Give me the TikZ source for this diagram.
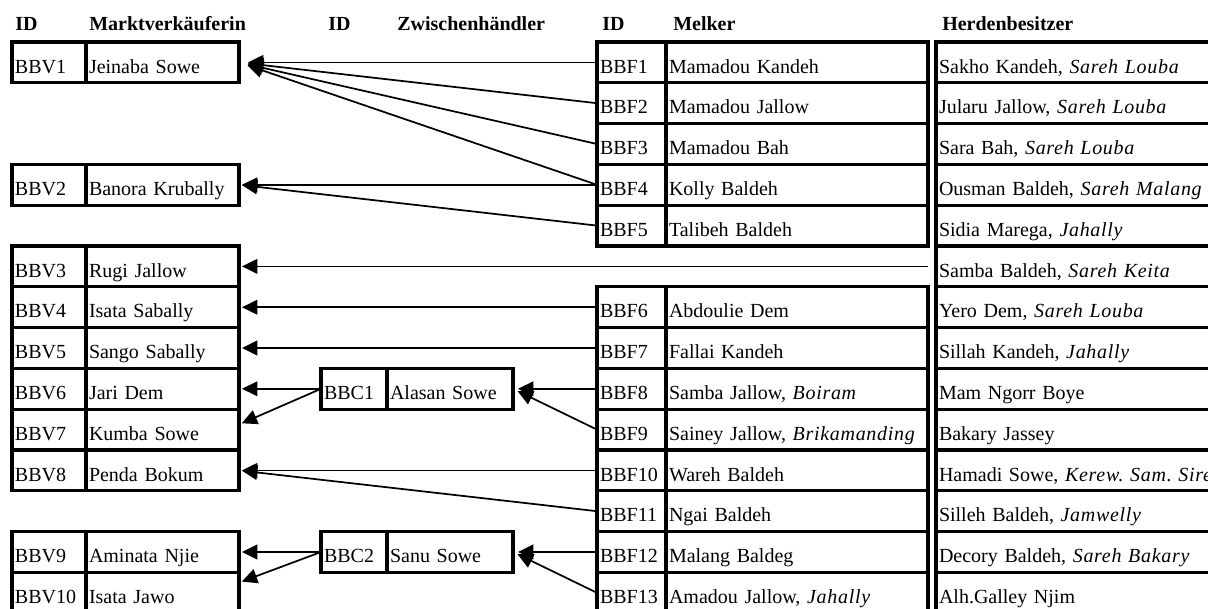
\documentclass[tikz,border=0pt]{standalone}
\usepackage{fontspec}
\setmainfont{Liberation Serif}
\usetikzlibrary{arrows.meta,calc}
\frenchspacing

% place names are set in slightly spaced italics
\newcommand\place[1]{{\itshape\addfontfeatures{LetterSpace=3.5}#1}}

% one table row made of an ID cell and a name cell
% #1 node name, #2 left x, #3 row index, #4 id style, #5 name style, #6 id, #7 name
\newcommand\tworow[7]{%
  \node[cell,#4] (#1id) at (#2,{42+40.8*#3}) {#6};
  \node[cell,#5] (#1) at (#1id.north east) {#7};
}
% a single cell of the owner column: #1 node name, #2 row index, #3 text
\newcommand\herdrow[3]{%
  \node[cell,herd] (#1) at (936,{42+40.8*#2}) {#3};
}

\begin{document}
\begin{tikzpicture}[x=0.75pt,y=-0.75pt,
  cell/.style={draw, line width=2.3pt, anchor=north west, outer sep=0pt,
    minimum height=30.6pt, inner xsep=2.25pt, inner ysep=0pt,
    text height=16pt, text depth=0pt, align=left,
    font=\fontsize{15}{18}\selectfont},
  vid/.style={text width=51pt},
  vname/.style={text width=110.25pt},
  cid/.style={text width=45pt},
  cname/.style={text width=90pt},
  fid/.style={text width=47.25pt},
  fname/.style={text width=192pt},
  herd/.style={text width=230pt},
  head/.style={anchor=base west, inner sep=0pt, font=\fontsize{15}{18}\selectfont\bfseries},
  conn/.style={line width=1.3pt, -{Triangle[length=11.5pt,width=11pt]}, shorten >=2.25pt},
]
\useasboundingbox (0,0) rectangle (1208,608);

% column headings
\node[head] (h-id1) at (15,30) {ID};
\node[head] (h-mv)  at (89,30) {Marktverkäuferin};
\node[head] (h-id2) at (328,30) {ID};
\node[head] (h-zh)  at (397,30) {Zwischenhändler};
\node[head] (h-id3) at (602,30) {ID};
\node[head] (h-mk)  at (673,30) {Melker};
\node[head] (h-hb)  at (942,30) {Herdenbesitzer};

% market vendors
\tworow{v1}{12}{0}{vid}{vname}{BBV1}{Jeinaba Sowe}
\tworow{v2}{12}{3}{vid}{vname}{BBV2}{Banora Krubally}
\tworow{v3}{12}{5}{vid}{vname}{BBV3}{Rugi Jallow}
\tworow{v4}{12}{6}{vid}{vname}{BBV4}{Isata Sabally}
\tworow{v5}{12}{7}{vid}{vname}{BBV5}{Sango Sabally}
\tworow{v6}{12}{8}{vid}{vname}{BBV6}{Jari Dem}
\tworow{v7}{12}{9}{vid}{vname}{BBV7}{Kumba Sowe}
\tworow{v8}{12}{10}{vid}{vname}{BBV8}{Penda Bokum}
\tworow{v9}{12}{12}{vid}{vname}{BBV9}{Aminata Njie}
\tworow{v10}{12}{13}{vid}{vname}{BBV10}{Isata Jawo}

% intermediaries
\tworow{c1}{321}{8}{cid}{cname}{BBC1}{Alasan Sowe}
\tworow{c2}{321}{12}{cid}{cname}{BBC2}{Sanu Sowe}

% milkers
\tworow{f1}{597}{0}{fid}{fname}{BBF1}{Mamadou Kandeh}
\tworow{f2}{597}{1}{fid}{fname}{BBF2}{Mamadou Jallow}
\tworow{f3}{597}{2}{fid}{fname}{BBF3}{Mamadou Bah}
\tworow{f4}{597}{3}{fid}{fname}{BBF4}{Kolly Baldeh}
\tworow{f5}{597}{4}{fid}{fname}{BBF5}{Talibeh Baldeh}
\tworow{f6}{597}{6}{fid}{fname}{BBF6}{Abdoulie Dem}
\tworow{f7}{597}{7}{fid}{fname}{BBF7}{Fallai Kandeh}
\tworow{f8}{597}{8}{fid}{fname}{BBF8}{Samba Jallow, \place{Boiram}}
\tworow{f9}{597}{9}{fid}{fname}{BBF9}{Sainey Jallow, \place{Brikamanding}}
\tworow{f10}{597}{10}{fid}{fname}{BBF10}{Wareh Baldeh}
\tworow{f11}{597}{11}{fid}{fname}{BBF11}{Ngai Baldeh}
\tworow{f12}{597}{12}{fid}{fname}{BBF12}{Malang Baldeg}
\tworow{f13}{597}{13}{fid}{fname}{BBF13}{Amadou Jallow, \place{Jahally}}

% herd owners
\herdrow{h0}{0}{Sakho Kandeh, \place{Sareh Louba}}
\herdrow{h1}{1}{Jularu Jallow, \place{Sareh Louba}}
\herdrow{h2}{2}{Sara Bah, \place{Sareh Louba}}
\herdrow{h3}{3}{Ousman Baldeh, \place{Sareh Malang}}
\herdrow{h4}{4}{Sidia Marega, \place{Jahally}}
\herdrow{h5}{5}{Samba Baldeh, \place{Sareh Keita}}
\herdrow{h6}{6}{Yero Dem, \place{Sareh Louba}}
\herdrow{h7}{7}{Sillah Kandeh, \place{Jahally}}
\herdrow{h8}{8}{Mam Ngorr Boye}
\herdrow{h9}{9}{Bakary Jassey}
\herdrow{h10}{10}{Hamadi Sowe, \place{Kerew. Sam. Sire}}
\herdrow{h11}{11}{Silleh Baldeh, \place{Jamwelly}}
\herdrow{h12}{12}{Decory Baldeh, \place{Sareh Bakary}}
\herdrow{h13}{13}{Alh.Galley Njim}

% deliveries
\draw[conn, shorten >=6.75pt] (f1id.west) -- (v1.east);
\draw[conn, shorten >=6.75pt] (f2id.west) -- (v1.east);
\draw[conn, shorten >=6.75pt] (f3id.west) -- (v1.east);
\draw[conn, shorten >=6.75pt] (f4id.west) -- (v1.east);
\draw[conn] (f4id.west) -- (v2.east);
\draw[conn] (f5id.west) -- (v2.east);
\draw[conn, shorten <=6pt] (h5.west) -- (v3.east);
\draw[conn] (f6id.west) -- (v4.east);
\draw[conn] (f7id.west) -- (v5.east);
\draw[conn] (c1id.west) -- (v6.east);
\draw[conn] (c1id.west) -- ($(v7.east)!0.25!(v7.north east)$);
\draw[conn, shorten >=3.75pt] (f8id.west) -- (c1.east);
\draw[conn, shorten >=3.75pt] (f9id.west) -- (c1.east);
\draw[conn] (f10id.west) -- (v8.east);
\draw[conn] (f11id.west) -- (v8.east);
\draw[conn] (c2id.west) -- (v9.east);
\draw[conn] (c2id.west) -- ($(v10.east)!0.5!(v10.north east)$);
\draw[conn, shorten >=3.75pt] (f12id.west) -- (c2.east);
\draw[conn, shorten >=3.75pt] (f13id.west) -- (c2.east);
\end{tikzpicture}
\end{document}
